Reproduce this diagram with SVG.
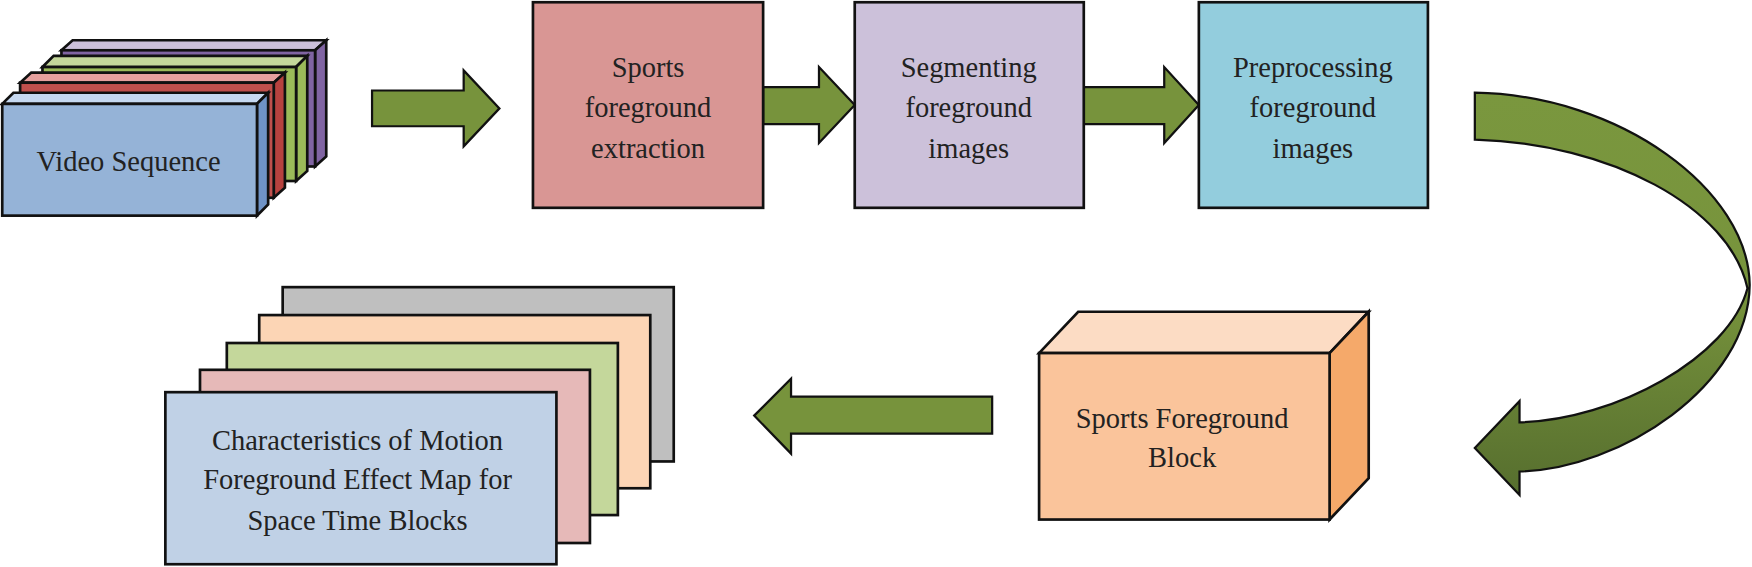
<svg xmlns="http://www.w3.org/2000/svg" width="1752" height="567" viewBox="0 0 1752 567">
<style>
.s{stroke:#111;stroke-width:2.4;stroke-linejoin:miter}
.t{font-family:"Liberation Serif","Times New Roman",serif;font-size:25.5px;fill:#222;text-anchor:middle}
.ar{fill:#77933c;stroke:#111;stroke-width:2}
</style>
<defs>
<linearGradient id="cg" x1="0" y1="0" x2="0" y2="1">
<stop offset="0" stop-color="#7a973e"/><stop offset="0.5" stop-color="#77933c"/><stop offset="1" stop-color="#566e2e"/>
</linearGradient>
</defs>
<rect width="1752" height="567" fill="#fff"/>
<g transform="scale(1.1173)">
<g id="video">
<g class="s">
<path d="M55,45 L65,36 L292,36 L282,45 Z" fill="#ccc0da"/><path d="M282,45 L292,36 L292,140 L282,149 Z" fill="#8064a2"/><rect x="55" y="45" width="227" height="104" fill="#8064a2"/>
<path d="M38,60 L48,50 L275,50 L265,60 Z" fill="#c4d79b"/><path d="M265,60 L275,50 L275,153 L265,162 Z" fill="#9bbb59"/><rect x="38" y="60" width="227" height="102" fill="#9bbb59"/>
<path d="M18,74 L28,65 L255,65 L245,74 Z" fill="#e6a09e"/><path d="M245,74 L255,65 L255,168 L245,177 Z" fill="#b7423f"/><rect x="18" y="74" width="227" height="103" fill="#c0504d"/>
<path d="M2,93 L12,83 L240,83 L230,93 Z" fill="#c6d9f1"/><path d="M230,93 L240,83 L240,183 L230,193 Z" fill="#6f93c6"/><rect x="2" y="93" width="228" height="100" fill="#95b3d7"/>
</g>
<text class="t" x="115" y="153">Video Sequence</text>
</g>
<g id="connectors">
<path class="ar" d="M333,81 L415,81 L415,63 L447,97 L415,131 L415,113 L333,113 Z"/>
<path class="ar" d="M683,78 L733,78 L733,60 L765,94 L733,128 L733,111 L683,111 Z"/>
<path class="ar" d="M970,78 L1042,78 L1042,60 L1073,94 L1042,128 L1042,111 L970,111 Z"/>
<path d="M1320,83 C1450,85 1565,170 1566,255 C1565,345 1450,420 1360,422 L1360,443 L1320,401 L1360,359 L1360,378 C1445,376 1548,320 1564,258 C1548,185 1440,128 1320,125 Z" fill="url(#cg)" stroke="#111" stroke-width="2"/>
<path class="ar" d="M888,355 L708,355 L708,339 L675,372 L708,406 L708,388 L888,388 Z"/>
</g>
<g id="extract"><rect class="s" x="477" y="2" width="206" height="184" fill="#d99694"/>
<text class="t" x="580" y="69">Sports</text><text class="t" x="580" y="105">foreground</text><text class="t" x="580" y="141">extraction</text></g>
<g id="segment"><rect class="s" x="765" y="2" width="205" height="184" fill="#ccc1da"/>
<text class="t" x="867" y="69">Segmenting</text><text class="t" x="867" y="105">foreground</text><text class="t" x="867" y="141">images</text></g>
<g id="preprocess"><rect class="s" x="1073" y="2" width="205" height="184" fill="#93cddd"/>
<text class="t" x="1175" y="69">Preprocessing</text><text class="t" x="1175" y="105">foreground</text><text class="t" x="1175" y="141">images</text></g>
<g id="block">
<path class="s" d="M930,316 L965,279 L1225,279 L1190,316 Z" fill="#fcdcc4"/>
<path class="s" d="M1190,316 L1225,279 L1225,428 L1190,465 Z" fill="#f5a96a"/>
<rect class="s" x="930" y="316" width="260" height="149" fill="#fac49b"/>
<text class="t" x="1058" y="383">Sports Foreground</text><text class="t" x="1058" y="418">Block</text>
</g>
<g id="features" class="s">
<rect x="253" y="257" width="350" height="156" fill="#bfbfbf"/>
<rect x="232" y="282" width="350" height="155" fill="#fcd5b5"/>
<rect x="203" y="307" width="350" height="154" fill="#c4d79b"/>
<rect x="179" y="331" width="349" height="155" fill="#e6b9b8"/>
<rect x="148" y="351" width="350" height="154" fill="#c0d1e6"/>
</g>
<g id="features-text">
<text class="t" x="320" y="403">Characteristics of Motion</text><text class="t" x="320" y="438">Foreground Effect Map for</text><text class="t" x="320" y="474">Space Time Blocks</text>
</g>
</g>
</svg>
